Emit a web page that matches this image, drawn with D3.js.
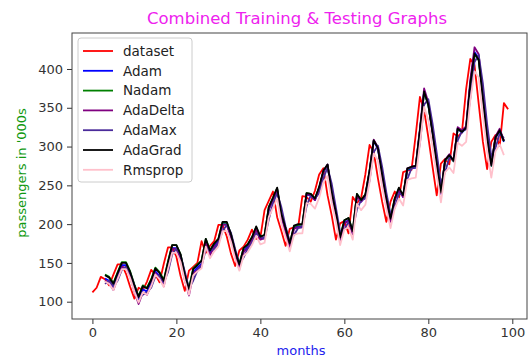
<!DOCTYPE html>
<html>
<head>
<meta charset="utf-8">
<script src="https://cdn.jsdelivr.net/npm/d3@7"></script>
<style>
  body { margin: 0; background: #fff; }
  text { font-family: "DejaVu Sans", sans-serif; }
</style>
</head>
<body>
<div id="chart"></div>
<script>
// airline passengers, first 100 months
const dataset = [112, 118, 132, 129, 121, 135, 148, 148, 136, 119,
  104, 118, 115, 126, 141, 135, 125, 149, 170, 170,
  158, 133, 114, 140, 145, 150, 178, 163, 172, 178,
  199, 199, 184, 162, 146, 166, 171, 180, 193, 181,
  183, 218, 230, 242, 209, 191, 172, 194, 196, 196,
  236, 235, 229, 243, 264, 272, 237, 211, 180, 201,
  204, 188, 235, 227, 234, 264, 302, 293, 259, 229,
  203, 229, 242, 233, 267, 269, 270, 315, 364, 347,
  312, 274, 237, 278, 284, 277, 317, 313, 318, 374,
  413, 405, 355, 306, 271, 306, 315, 301, 356, 348];

// predictions start at month 3 (look back)
const predStart = 3;

const adam = [130, 127, 119, 133, 147, 147, 134, 117, 101, 116, 113, 124, 139, 133, 123, 148, 169, 169, 157, 131,
  111, 138, 144, 149, 178, 162, 172, 178, 200, 200, 184, 161, 145, 165, 171, 180, 193, 181, 183, 219,
  232, 244, 210, 191, 172, 195, 197, 197, 238, 237, 231, 246, 267, 276, 239, 212, 180, 202, 205, 188,
  237, 229, 236, 267, 307, 297, 262, 231, 204, 231, 244, 235, 270, 272, 273, 320, 371, 354, 317, 278,
  239, 282, 288, 281, 323, 318, 324, 382, 422, 414, 362, 311, 275, 311, 320, 306];

const nadam = [135, 132, 124, 138, 151, 151, 139, 122, 107, 121, 118, 129, 144, 138, 128, 152, 173, 173, 161, 136,
  117, 143, 148, 153, 181, 166, 175, 181, 202, 202, 187, 165, 149, 169, 174, 183, 196, 184, 186, 222,
  234, 246, 213, 195, 175, 197, 199, 199, 240, 239, 233, 247, 268, 276, 241, 215, 183, 205, 208, 191,
  239, 231, 238, 268, 308, 299, 263, 233, 207, 233, 246, 237, 271, 273, 274, 321, 370, 353, 318, 278,
  241, 282, 288, 281, 323, 319, 324, 380, 419, 411, 361, 312, 275, 312, 321, 307];

const adaDelta = [127, 124, 115, 130, 144, 144, 132, 113, 97, 112, 109, 121, 137, 130, 120, 145, 168, 168, 155, 128,
  108, 136, 141, 147, 176, 160, 170, 176, 199, 199, 183, 159, 142, 164, 169, 179, 193, 180, 182, 219,
  232, 245, 210, 190, 170, 194, 196, 196, 239, 237, 231, 246, 268, 277, 240, 212, 179, 201, 204, 187,
  237, 229, 236, 268, 309, 299, 263, 231, 203, 231, 245, 235, 272, 274, 275, 323, 375, 357, 320, 279,
  240, 283, 290, 282, 325, 321, 326, 386, 428, 419, 366, 313, 276, 313, 323, 308];

const adaMax = [123, 127, 120, 127, 141, 145, 137, 121, 105, 109, 112, 118, 133, 134, 125, 138, 161, 169, 160, 139,
  117, 127, 140, 146, 167, 167, 167, 175, 191, 199, 189, 168, 149, 157, 168, 176, 188, 184, 181, 206,
  227, 240, 222, 197, 178, 186, 195, 196, 223, 237, 233, 240, 259, 273, 252, 221, 190, 193, 203, 193,
  219, 231, 233, 256, 293, 301, 274, 241, 213, 221, 239, 238, 258, 272, 273, 304, 354, 361, 330, 292,
  252, 267, 286, 283, 308, 320, 322, 362, 409, 418, 381, 329, 287, 298, 317, 311];

const adaGrad = [134, 131, 123, 137, 150, 150, 138, 121, 106, 120, 117, 128, 143, 137, 127, 151, 173, 173, 161, 135,
  116, 142, 147, 153, 181, 166, 175, 181, 203, 203, 187, 165, 148, 169, 174, 183, 197, 184, 186, 222,
  234, 247, 213, 195, 175, 198, 200, 200, 240, 239, 233, 248, 269, 277, 241, 215, 183, 205, 208, 191,
  239, 231, 238, 269, 308, 298, 264, 233, 207, 233, 247, 237, 272, 274, 275, 321, 371, 354, 318, 279,
  241, 283, 289, 282, 323, 319, 324, 381, 420, 412, 362, 312, 276, 312, 321, 307];

const rmsprop = [126, 123, 115, 129, 142, 142, 130, 113, 99, 112, 109, 120, 135, 129, 119, 142, 163, 163, 151, 127,
  109, 134, 139, 143, 171, 156, 165, 171, 191, 191, 177, 155, 140, 159, 164, 173, 185, 174, 176, 209,
  221, 233, 201, 183, 165, 186, 188, 188, 227, 226, 220, 234, 254, 262, 228, 203, 173, 193, 196, 180,
  226, 218, 225, 254, 291, 282, 249, 220, 195, 220, 233, 224, 257, 259, 260, 303, 351, 334, 300, 263,
  228, 267, 273, 266, 305, 301, 306, 360, 397, 389, 341, 294, 260, 294, 303, 289];

const seriesNames = ['dataset', 'Adam', 'Nadam', 'AdaDelta', 'AdaMax', 'AdaGrad', 'Rmsprop'];
const seriesColors = ['#ff0000', '#0000ff', '#008000', '#800080', '#4b2b9a', '#000000', '#ffc0cb'];
const xTicks = [0, 20, 40, 60, 80, 100];
const yTicks = [100, 150, 200, 250, 300, 350, 400];

const width = 528, height = 358;
const margin = { top: 33, right: 1, bottom: 39, left: 72 };

const svg = d3.select('#chart')
  .append('svg')
  .attr('width', width)
  .attr('height', height);

const x = d3.scaleLinear()
  .domain([-4.86, 103.5])
  .range([margin.left, width - margin.right]);

const y = d3.scaleLinear()
  .domain([77.7, 446.4])
  .range([height - margin.bottom, margin.top]);

const line = d3.line()
  .x(d => x(d[0]))
  .y(d => y(d[1]));

const allSeries = [dataset.map((v, i) => [i, v])];
[adam, nadam, adaDelta, adaMax, adaGrad, rmsprop].forEach(arr => {
  allSeries.push(arr.map((v, i) => [i + predStart, v]));
});

const plot = svg.append('g');
plot.append('clipPath').attr('id', 'clip')
  .append('rect')
  .attr('x', x.range()[0]).attr('y', margin.top)
  .attr('width', x.range()[1] - x.range()[0])
  .attr('height', height - margin.bottom - margin.top);

plot.selectAll('.series')
  .data(allSeries)
  .enter()
  .append('path')
  .attr('class', 'series')
  .attr('clip-path', 'url(#clip)')
  .attr('fill', 'none')
  .attr('stroke', (d, i) => seriesColors[i])
  .attr('stroke-width', 1.8)
  .attr('stroke-linejoin', 'round')
  .attr('d', line);

// axes
const xAxis = svg.append('g')
  .attr('transform', `translate(0, ${height - margin.bottom})`)
  .call(d3.axisBottom(x).tickValues(xTicks).tickSize(5).tickPadding(4).tickFormat(d3.format('d')));
const yAxis = svg.append('g')
  .attr('transform', `translate(${margin.left}, 0)`)
  .call(d3.axisLeft(y).tickValues(yTicks).tickSize(5).tickPadding(4));

[xAxis, yAxis].forEach(ax => {
  ax.select('.domain').remove();
  ax.selectAll('line').attr('stroke', '#333');
  ax.selectAll('text').attr('fill', '#333').style('font-size', '13px');
});

// frame
svg.append('rect')
  .attr('x', x.range()[0])
  .attr('y', margin.top)
  .attr('width', x.range()[1] - x.range()[0])
  .attr('height', height - margin.bottom - margin.top)
  .attr('fill', 'none')
  .attr('stroke', '#444')
  .attr('stroke-width', 1);

// legend
const legend = svg.append('g').attr('transform', 'translate(78, 38)');
legend.append('rect')
  .attr('width', 114)
  .attr('height', 144)
  .attr('rx', 3)
  .attr('fill', '#fff')
  .attr('fill-opacity', 0.85)
  .attr('stroke', '#ccc');
seriesNames.forEach((name, i) => {
  const row = legend.append('g').attr('transform', `translate(0, ${13 + i * 19.8})`);
  row.append('line')
    .attr('x1', 5).attr('x2', 35)
    .attr('stroke', seriesColors[i])
    .attr('stroke-width', 1.8);
  row.append('text')
    .attr('x', 45)
    .attr('dy', '0.35em')
    .attr('fill', '#222')
    .style('font-size', '13.5px')
    .text(name);
});

// titles
svg.append('text')
  .attr('x', 297)
  .attr('y', 24)
  .attr('text-anchor', 'middle')
  .attr('fill', '#ee22ee')
  .style('font-size', '16.5px')
  .text('Combined Training & Testing Graphs');

svg.append('text')
  .attr('x', 301)
  .attr('y', 355)
  .attr('text-anchor', 'middle')
  .attr('fill', '#2222ee')
  .style('font-size', '13px')
  .text('months');

svg.append('text')
  .attr('transform', 'translate(26, 173) rotate(-90)')
  .attr('text-anchor', 'middle')
  .attr('fill', '#119911')
  .style('font-size', '13px')
  .text("passengers in '000s");
</script>
</body>
</html>
